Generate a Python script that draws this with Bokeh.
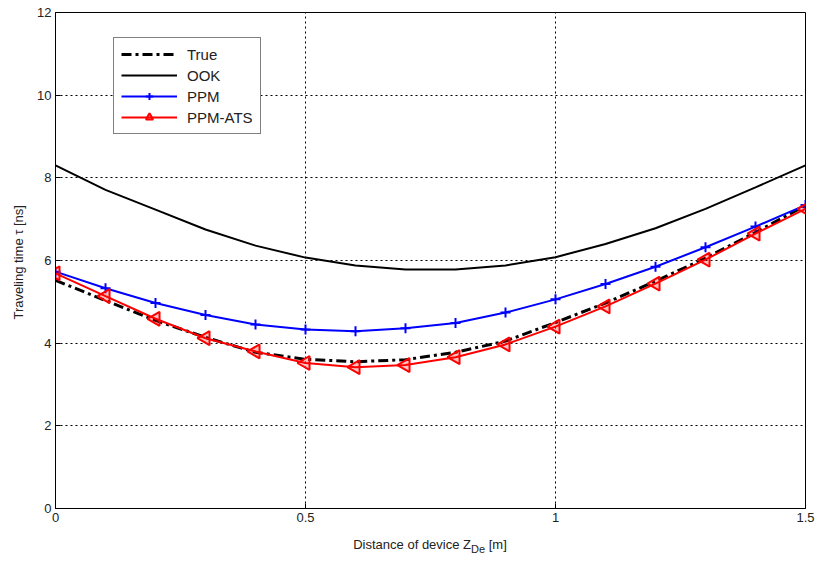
from bokeh.plotting import figure
from bokeh.models import FixedTicker, Legend, LegendItem, Range1d, ColumnDataSource, Div
from bokeh.layouts import column
from bokeh.embed import file_html
from bokeh.resources import INLINE

x = [0, 0.1, 0.2, 0.3, 0.4, 0.5, 0.6, 0.7, 0.8, 0.9, 1.0, 1.1, 1.2, 1.3, 1.4, 1.5]
true_vals = [5.52, 5.03, 4.55, 4.14, 3.78, 3.61, 3.55, 3.60, 3.78, 4.05, 4.50, 4.97, 5.50, 6.06, 6.68, 7.33]
ook_vals = [8.30, 7.71, 7.23, 6.75, 6.36, 6.07, 5.88, 5.78, 5.78, 5.88, 6.08, 6.40, 6.78, 7.25, 7.77, 8.30]
ppm_vals = [5.73, 5.33, 4.97, 4.68, 4.45, 4.33, 4.29, 4.36, 4.49, 4.74, 5.06, 5.43, 5.85, 6.32, 6.82, 7.34]
ats_vals = [5.69, 5.14, 4.59, 4.12, 3.80, 3.52, 3.42, 3.47, 3.66, 3.97, 4.40, 4.89, 5.44, 6.02, 6.65, 7.25]
x_ticks = [0, 0.5, 1, 1.5]
y_ticks = [0, 2, 4, 6, 8, 10, 12]

FONT = "Liberation Sans"
TXT = "#222222"

p = figure(width=817, height=530, output_backend="svg", toolbar_location=None,
           x_range=Range1d(0, 1.5), y_range=Range1d(0, 12),
           min_border_left=55, min_border_right=12, min_border_top=12, min_border_bottom=22)
p.outline_line_color = "black"
p.outline_line_width = 1
p.background_fill_color = "white"

for ax in (p.xaxis[0], p.yaxis[0]):
    ax.major_tick_in = 5
    ax.major_tick_out = 0
    ax.minor_tick_in = 0
    ax.minor_tick_out = 0
    ax.axis_line_color = "black"
    ax.major_tick_line_color = "black"
    ax.major_label_text_font = FONT
    ax.major_label_text_font_size = "13px"
    ax.major_label_text_color = TXT
    ax.major_label_standoff = 4

p.xaxis.ticker = FixedTicker(ticks=x_ticks)
p.yaxis.ticker = FixedTicker(ticks=y_ticks)
p.xaxis.major_label_overrides = {0: "0", 0.5: "0.5", 1: "1", 1.5: "1.5"}

p.yaxis.axis_label = "Traveling time  \u03c4 [ns]"
p.yaxis.axis_label_text_font = FONT
p.yaxis.axis_label_text_font_style = "normal"
p.yaxis.axis_label_text_font_size = "13px"
p.yaxis.axis_label_text_color = TXT
p.yaxis.axis_label_standoff = 8

for g in (p.xgrid[0], p.ygrid[0]):
    g.grid_line_color = "black"
    g.grid_line_dash = "2 3"
    g.grid_line_width = 1

ats_src = ColumnDataSource(dict(x=x, y=ats_vals, ang=[1.5708] * len(x)))

r_true = p.line(x, true_vals, line_color="black", line_width=3, line_dash="10 4 3 4")
r_ook = p.line(x, ook_vals, line_color="black", line_width=2)
r_ppm = p.line(x, ppm_vals, line_color="#0000ff", line_width=2)
r_ppm_m = p.scatter(x, ppm_vals, marker="cross", size=10, line_color="#0000ff", line_width=2)
r_ats = p.line(x, ats_vals, line_color="#ff0000", line_width=2)
r_ats_m = p.scatter("x", "y", source=ats_src, marker="triangle", angle="ang", size=14,
                    line_color="#ff0000", fill_color="#ff0000", fill_alpha=0.25, line_width=2)

legend = Legend(items=[
    LegendItem(label="True", renderers=[r_true]),
    LegendItem(label="OOK", renderers=[r_ook]),
    LegendItem(label="PPM", renderers=[r_ppm, r_ppm_m]),
    LegendItem(label="PPM-ATS", renderers=[r_ats, r_ats_m]),
], location=(58, 374))
legend.border_line_color = "black"
legend.border_line_width = 1
legend.label_text_font = FONT
legend.label_text_font_size = "15px"
legend.label_text_color = TXT
legend.glyph_width = 56
legend.glyph_height = 18
legend.spacing = 3
legend.padding = 7
legend.margin = 0
legend.label_standoff = 10
legend.background_fill_alpha = 1
p.add_layout(legend, "center")

xlabel = Div(
    text=('<div style="width:750px;margin-left:55px;padding-top:5px;text-align:center;'
          'font-family:\'Liberation Sans\';font-size:13px;color:#222222;line-height:20px;">'
          'Distance of device Z<sub style="font-size:11px;">De</sub> [m]</div>'),
    width=817, height=33, margin=(0, 0, 0, 0),
)

layout = column(p, xlabel, spacing=0)
open("out.html", "w").write(file_html(layout, INLINE))
